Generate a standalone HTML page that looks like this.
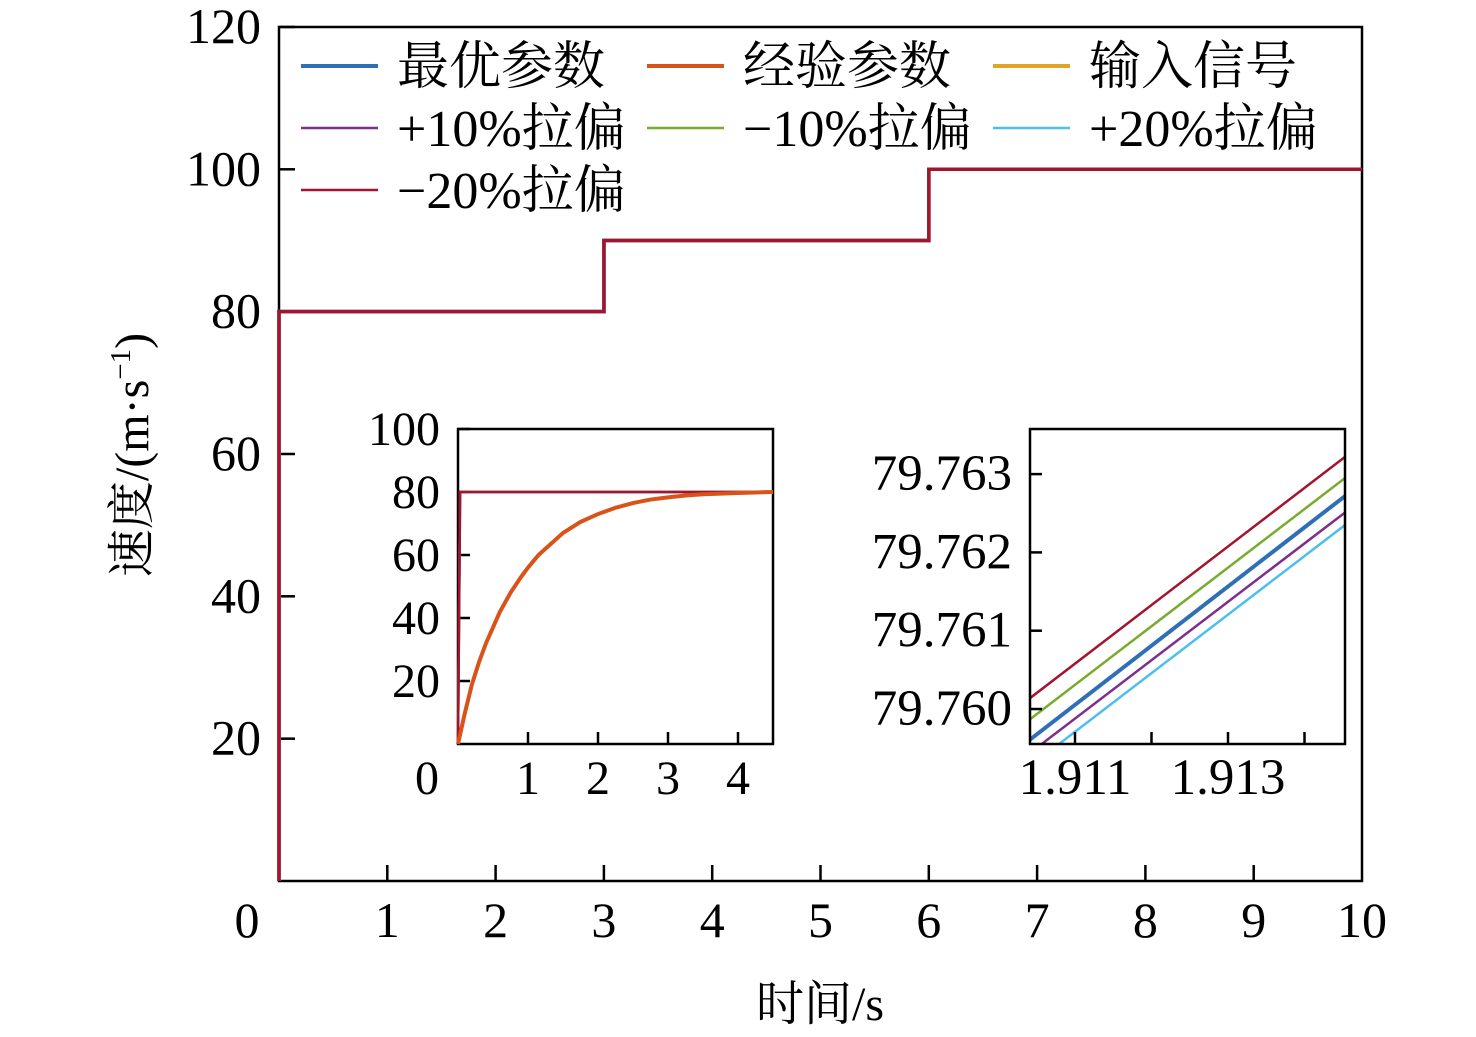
<!DOCTYPE html>
<html><head><meta charset="utf-8"><style>
html,body{margin:0;padding:0;background:#fff;}
svg{display:block;font-family:"Liberation Serif","Noto Serif CJK SC",serif;}
</style></head><body>
<svg id="chart" width="1476" height="1037" viewBox="0 0 1476 1037" xmlns="http://www.w3.org/2000/svg">
<rect width="1476" height="1037" fill="#fff"/>
<g id="main"></g>
<g id="inset1"></g>
<g id="inset2"></g>
<g id="legend"></g>
<text x="820" y="1020" font-size="48" text-anchor="middle">时间/s</text>
<text transform="translate(148,455) rotate(-90)" font-size="48" text-anchor="middle">速度/(m·s<tspan font-size="29" dy="-18">−1</tspan><tspan dy="18">)</tspan></text>
</svg>
<script>
const NS="http://www.w3.org/2000/svg";
// ---- data ----
const mainTicksX=[0,1,2,3,4,5,6,7,8,9,10];
const mainTicksY=[20,40,60,80,100,120];
const stepTimes=[0,0,3,3,6,6,10];
const stepValues=[0,80,80,90,90,100,100];
const inset1TicksX=[1,2,3,4];
const inset1TicksY=[20,40,60,80,100];
const expTimes=[0,0.05,0.1,0.2,0.3,0.4,0.5,0.6,0.75,0.9,1,1.15,1.3,1.5,1.75,2,2.25,2.5,2.75,3,3.25,3.5,4,4.5];
const expValues=[0,5,10,19,26,32,37,42,48,53,56,60,63,67,70.5,73,75,76.5,77.6,78.3,78.9,79.3,79.7,80];
const fastTimes=[0,0.03,4.5];
const fastValues=[0,80,80];
const inset2TicksX=[1.911,1.913];
const inset2MinorX=[1.912,1.914];
const inset2TicksY=[79.760,79.761,79.762,79.763];
const zoomTimes=[1.9104,1.91453];
const zoomRed=[79.76013,79.76322];
const zoomGreen=[79.75986,79.76295];
const zoomBlue=[79.7596,79.76272];
const zoomPurple=[79.75943,79.76251];
const zoomCyan=[79.75926,79.76235];
const legendLabels=["最优参数","经验参数","输入信号","+10%拉偏","−10%拉偏","+20%拉偏","−20%拉偏"];
const legendColors=["#2f6fb6","#d95319","#e0a526","#7e2f8e","#77ac30","#4dbeee","#a2142f"];
const legendWidths=[4,4,4,2.5,2.5,2.5,2.5];

function mk(parent,tag,attrs){const e=document.createElementNS(NS,tag);for(const k in attrs)e.setAttribute(k,attrs[k]);parent.appendChild(e);return e;}
function axes(g,x0,x1,y0,y1,sx,sy,tx,ty,fmtx,fmty,fs,tl,xoff,name){
  const frame=mk(g,'rect',{x:x0,y:y1,width:x1-x0,height:y0-y1,fill:'none',stroke:'#000','stroke-width':2.5});
  
  
  tx.forEach(v=>{const x=sx(v);
    const l=mk(g,'line',{x1:x,x2:x,y1:y0,y2:y0-tl,stroke:'#000','stroke-width':2.5});
    
    
    if(fmtx){const t=mk(g,'text',{x:x,y:y0+xoff,'font-size':fs,'text-anchor':'middle'});t.textContent=fmtx(v);
    
    }
  });
  ty.forEach(v=>{const y=sy(v);
    const l=mk(g,'line',{x1:x0,x2:x0+tl,y1:y,y2:y,stroke:'#000','stroke-width':2.5});
    
    
    const t=mk(g,'text',{x:x0-18,y:y+16,'font-size':fs,'text-anchor':'end'});t.textContent=fmty(v);
    
    
  });
}
function line(g,xs,ys,sx,sy,color,w,name){
  const p=mk(g,'polyline',{points:xs.map((x,i)=>sx(x)+','+sy(ys[i])).join(' '),fill:'none',stroke:color,'stroke-width':w,'stroke-linejoin':'miter'});
  
  
}
// main
const gm=document.getElementById('main');
const msx=v=>279+v*108.3, msy=v=>881-v*7.117;
axes(gm,279,1362,881,27,msx,msy,mainTicksX.slice(1,-1),mainTicksY,v=>v,v=>v,50,16,56,'main');
[['0',247],['10',1362]].forEach(([s,x])=>{const t=mk(gm,'text',{x:x,y:937,'font-size':50,'text-anchor':'middle'});t.textContent=s;
 
 });
legendColors.forEach((c,i)=>line(gm,stepTimes,stepValues,msx,msy,c,3.5,'main-series-'+i));
// inset1
const g1=document.getElementById('inset1');
const s1x=v=>458+v*70, s1y=v=>744-v*3.15;
mk(g1,'rect',{x:458,y:429,width:315,height:315,fill:'#fff'});
axes(g1,458,773,744,429,s1x,s1y,inset1TicksX,inset1TicksY,v=>v,v=>v,48,12,50,'inset1');
{const t=mk(g1,'text',{x:427,y:794,'font-size':48,'text-anchor':'middle'});t.textContent='0';
 
 }
line(g1,fastTimes,fastValues,s1x,s1y,'#e0a526',2.5,'inset1-input');
line(g1,fastTimes,fastValues,s1x,s1y,'#7e2f8e',2.5,'inset1-fast');
line(g1,fastTimes,fastValues,s1x,s1y,'#a2142f',2.5,'inset1-fast2');
line(g1,expTimes,expValues,s1x,s1y,'#d95319',4,'inset1-empirical');
// inset2
const g2=document.getElementById('inset2');
const s2x=v=>1075+(v-1.911)*76500, s2y=v=>709-(v-79.760)*78300;
mk(g2,'rect',{x:1030,y:429,width:315,height:315,fill:'#fff'});
const cp=mk(g2,'clipPath',{id:'c2'});mk(cp,'rect',{x:1030,y:429,width:315,height:315});
const gl=mk(g2,'g',{'clip-path':'url(#c2)'});
line(gl,zoomTimes,zoomRed,s2x,s2y,'#a2142f',2.5,'inset2-minus20');
line(gl,zoomTimes,zoomGreen,s2x,s2y,'#77ac30',2.5,'inset2-minus10');
line(gl,zoomTimes,zoomBlue,s2x,s2y,'#2f6fb6',4,'inset2-optimal');
line(gl,zoomTimes,zoomPurple,s2x,s2y,'#7e2f8e',2.5,'inset2-plus10');
line(gl,zoomTimes,zoomCyan,s2x,s2y,'#4dbeee',2.5,'inset2-plus20');
axes(g2,1030,1345,744,429,s2x,s2y,inset2TicksX,inset2TicksY,v=>v.toFixed(3),v=>v.toFixed(3),51,12,50,'inset2');
inset2MinorX.forEach(v=>{const l=mk(g2,'line',{x1:s2x(v),x2:s2x(v),y1:744,y2:732,stroke:'#000','stroke-width':2.5});
 
 });
// legend
const gL=document.getElementById('legend');
legendLabels.forEach((lab,i)=>{
  const col=i%3,row=Math.floor(i/3);
  const x=301+col*346,y=66+row*62;
  const g=mk(gL,'g',{});
  
  
  mk(g,'line',{x1:x,x2:x+77,y1:y,y2:y,stroke:legendColors[i],'stroke-width':legendWidths[i]});
  const t=mk(g,'text',{x:x+96,y:y+18,'font-size':52});t.textContent=lab;
});
</script>
</body></html>
